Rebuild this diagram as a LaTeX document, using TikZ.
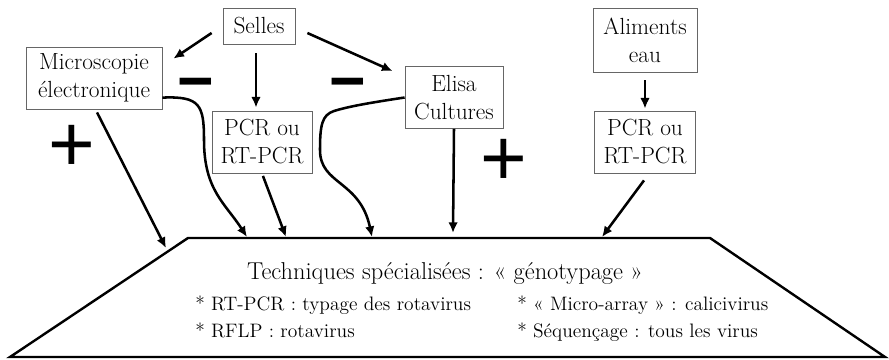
\documentclass[tikz,border=0pt]{standalone}
\usepackage{fontspec}
\newfontfamily\signfont{Liberation Sans}
\usetikzlibrary{arrows.meta,calc}

\begin{document}
\begin{tikzpicture}[x=0.75pt,y=-0.75pt,box/.style={draw=black!60,line width=0.6pt,align=center,font=\fontsize{17.5}{21}\selectfont,inner sep=1pt,minimum height=46.5pt},sign/.style={inner sep=0pt},arr/.style={-{Latex[length=2.8mm,width=2.5mm]},line width=1.9pt},item/.style={anchor=base west,inner sep=0pt,font=\fontsize{14.6}{16}\selectfont}]
\useasboundingbox (0,0) rectangle (889,360);
\node[box,minimum width=54pt,minimum height=27pt] (selles) at (259,26){Selles};
\node[box,minimum width=102pt] (micro) at (94,78){Microscopie\\électronique};
\node[box,minimum width=75pt] (pcrleft) at (262,142){PCR ou\\RT-PCR};
\node[box,minimum width=73.5pt] (elisa) at (454,97.5){Elisa\\Cultures};
\node[box,minimum width=78pt,minimum height=48pt] (aliments) at (645,40){Aliments\\eau};
\node[box,minimum width=75.75pt] (pcrright) at (645,142){PCR ou\\RT-PCR};
% trapeze
\coordinate (tl) at (188,238);\coordinate (tr) at (710,238);\coordinate (br) at (885,357);\coordinate (bl) at (10,357);
\draw[line width=1.8pt] (tl) -- (tr) -- (br) -- (bl) -- cycle;
\coordinate (t1) at (166,248);\coordinate (t2) at (247,237);\coordinate (t3) at (286,237);\coordinate (t4) at (372,237);\coordinate (t5) at (453,233);\coordinate (t6) at (602,237);
\node[anchor=base,inner sep=0pt,font=\fontsize{18.3}{20}\selectfont] (titre) at (445,279){Techniques spécialisées : « génotypage »};
\node[item] (rtpcr) at (195,310){* RT-PCR : typage des rotavirus};
\node[item] (rflp) at (195,337){* RFLP : rotavirus};
\node[item] (array) at (517,310){* « Micro-array » : calicivirus};
\node[item] (sequence) at (517,337){* Séquençage : tous les virus};
% signes
\node[sign,font=\signfont\fontsize{60}{60}\selectfont] (plusa) at (71.5,148.5){+};
\node[sign,font=\signfont\fontsize{60}{60}\selectfont] (plusb) at (504,162){+};
\node[sign,font=\signfont\bfseries\fontsize{47}{47}\selectfont] (moinsa) at (196,90){−};
\node[sign,font=\signfont\bfseries\fontsize{47}{47}\selectfont] (moinsb) at (348,90){−};
% fleches
\draw[arr] ($(selles.west)+(-11,7)$) -- ($(micro.north east)+(11,12)$);
\draw[arr] ($(selles.south)+(-3,9)$) -- ($(pcrleft.north)+(-6,-3)$);
\draw[arr] ($(selles.east)+(12,7)$) -- ($(elisa.north west)+(-12,5)$);
\draw[arr,shorten <=6pt,shorten >=1.5pt] (aliments) -- (pcrright);
\draw[arr] ($(micro.south)+(3,3)$) -- (t1);
\draw[arr] (micro.-16) .. controls (200,96) and (204,105) .. (204,140) .. controls (204,190) and (225,203) .. (t2);
\draw[arr,shorten <=2pt] (pcrleft.south) -- (t3);
\draw[arr] (elisa.west) .. controls (375,102) and (350,106) .. (334,111) .. controls (322,115) and (320,125) .. (320,150) .. controls (320,185) and (360,180) .. (t4);
\draw[arr] (elisa.south) -- (t5);
\draw[arr] ($(pcrright.south)+(-1,7)$) -- (t6);
\end{tikzpicture}
\end{document}
